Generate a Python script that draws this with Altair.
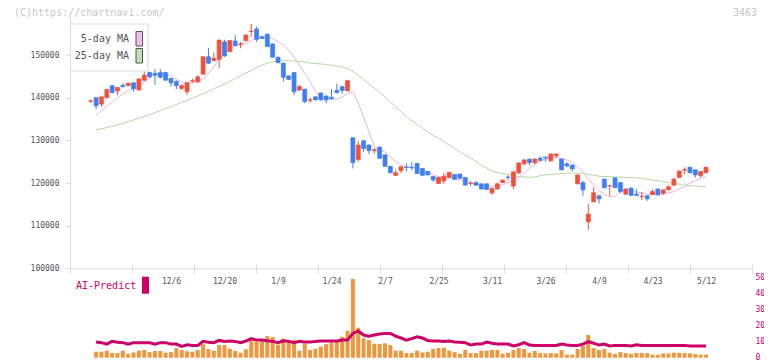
import json
import altair as alt
import pandas as pd

# ---------------- data ----------------
date_labels = ['12/6', '12/20', '1/9', '1/24', '2/7', '2/25', '3/11', '3/26', '4/9', '4/23', '5/12']
date_positions = [15, 25, 35, 45, 55, 65, 75, 85, 95, 105, 115]
price_ticks = [100000, 110000, 120000, 130000, 140000, 150000]
ai_ticks = [0, 10, 20, 30, 40, 50]

opens = [139150, 140000, 138500, 140000, 142800, 141600, 142900, 142800, 143500, 141800,
         144100, 145900, 145700, 145900, 145900, 144500, 143800, 142200, 141400, 143900,
         143700, 145500, 149600, 148700, 149000, 153100, 150800, 153300, 152500, 153400,
         155500, 156100, 154300, 154900, 152600, 149500, 148100, 145100, 145900, 141800,
         142000, 139400, 140200, 141100, 140400, 140100, 141700, 142600, 141600, 130600,
         125500, 129900, 128900, 127600, 128400, 126600, 123900, 121800, 122900, 123700,
         123700, 124600, 123400, 122700, 121500, 119900, 120500, 121300, 122000, 122100,
         121300, 119900, 120100, 119800, 119800, 117700, 118600, 120100, 121400, 119300,
         122400, 124500, 125600, 124800, 125800, 126100, 125200, 126400, 125600, 124500,
         124200, 119800, 120100, 110900, 115600, 117000, 120900, 119300, 121200, 120100,
         117400, 118800, 117400, 116800, 117000, 117300, 118600, 117600, 118400, 119500,
         121300, 123000, 123700, 123100, 121700, 122400]
highs = [139600, 140100, 140300, 142100, 143000, 142500, 143400, 143600, 143600, 144500,
         146100, 146100, 146700, 146700, 146000, 144600, 144100, 143200, 143600, 144500,
         145200, 149700, 151700, 150600, 153600, 153600, 153500, 154700, 153100, 154800,
         157300, 156700, 154500, 155000, 152700, 149600, 148200, 145200, 146000, 143000,
         142100, 140100, 140300, 141200, 140500, 142000, 143300, 142700, 144200, 130700,
         129900, 130100, 129000, 128300, 128600, 126700, 124000, 123100, 123900, 124600,
         124900, 124700, 123500, 122800, 121600, 121400, 122300, 122600, 122100, 122200,
         121400, 120400, 120400, 119900, 119900, 118800, 120100, 120800, 121800, 122700,
         124800, 125600, 125700, 125800, 126300, 126100, 126900, 126900, 125700, 124900,
         124300, 121900, 120500, 115100, 119000, 117100, 121000, 119500, 121300, 120200,
         118700, 118900, 118600, 117900, 117100, 118500, 118700, 118400, 119500, 121300,
         122900, 123700, 123800, 123200, 122800, 123800]
lows = [138700, 137300, 137900, 139900, 141000, 140600, 142400, 142700, 141400, 141700,
        144000, 144600, 143000, 144500, 144100, 142600, 142000, 141800, 140700, 143500,
        143600, 145400, 147900, 148500, 147000, 149600, 150700, 152100, 151600, 153200,
        154300, 153100, 153800, 151900, 149400, 148100, 143800, 144100, 140600, 141600,
        138700, 138800, 139300, 139300, 138700, 139600, 141000, 140900, 141500, 123400,
        125000, 127300, 126800, 126900, 125700, 123800, 122300, 121700, 122300, 122700,
        123000, 122100, 121600, 121800, 120300, 119800, 119800, 121200, 120700, 121000,
        119400, 119300, 119300, 118500, 118400, 117200, 118500, 120000, 120700, 118600,
        122100, 124200, 124100, 124300, 125200, 125000, 125100, 125900, 123000, 123700,
        122700, 119700, 117000, 109000, 115500, 115200, 118800, 117000, 118800, 117600,
        117200, 117000, 117000, 116000, 115800, 117200, 117100, 117200, 118300, 119400,
        121200, 122000, 122300, 121300, 121300, 122300]
closes = [139250, 138100, 140200, 141900, 141200, 142400, 142600, 143400, 142100, 144400,
          145300, 144900, 145300, 144800, 144100, 143500, 142800, 142800, 143500, 144000,
          144900, 149600, 148100, 149200, 153500, 149800, 153400, 152200, 152600, 154700,
          155600, 153700, 153900, 152000, 149500, 148200, 144800, 144300, 141400, 142600,
          139100, 139500, 139500, 139500, 139500, 139800, 141200, 141700, 144000, 124800,
          128900, 128100, 127600, 127800, 125800, 123900, 122400, 122400, 123800, 123600,
          123600, 122200, 121800, 121900, 120700, 121300, 121600, 122500, 120900, 121100,
          119500, 120000, 119500, 118600, 118500, 118700, 119800, 120700, 121300, 122600,
          124700, 125400, 124800, 125600, 125300, 125900, 126800, 126800, 123100, 124000,
          123300, 121900, 118400, 112700, 117700, 116300, 118900, 119400, 118900, 118000,
          118600, 117100, 117100, 116900, 116300, 118000, 117200, 118400, 119100, 120900,
          122800, 123100, 122400, 121900, 122700, 123700]

ma5 = [None, 135800, 136900, 138000, 139000, 140000, 140900, 141600, 142200, 142800, 143700,
       144700, 145400, 145700, 145700, 145100, 144300, 143700, 143500, 143500, 143700,
       144500, 145700, 147200, 149000, 150400, 151300, 152100, 152600, 152800, 153400,
       153900, 154200, 154300, 153900, 153200, 152400, 151200, 149500, 147700, 145700,
       143700, 141500, 140300, 139700, 139600, 139700, 140100, 141000, 141400, 138700,
       135500, 132000, 128600, 127700, 127300, 126200, 125000, 124200, 123800, 123600,
       123400, 123000, 122600, 121900, 121500, 121300, 121200, 120900, 120700, 120500,
       120100, 119800, 119400, 119100, 119100, 119300, 119600, 120100, 120600, 121300,
       122300, 123500, 124500, 125200, 125600, 125900, 126000, 125800, 125400, 124800,
       123800, 122600, 121000, 119500, 118200, 117300, 116800, 116800, 118000, 118500,
       118300, 117900, 117600, 117400, 117300, 117400, 117500, 117700, 118000, 118600,
       119300, 120000, 120600, 121100, 121500]
ma25 = [None, 132500, 132700, 133000, 133300, 133600, 134000, 134400, 134800, 135200, 135600,
        136000, 136500, 137000, 137500, 137900, 138400, 138900, 139400, 139900, 140400,
        140900, 141500, 142100, 142700, 143200, 143800, 144500, 145100, 145800, 146400,
        147100, 147600, 148100, 148400, 148600, 148700, 148700, 148600, 148500, 148400,
        148100, 148000, 147900, 147800, 147600, 147400, 147200, 146800, 146200, 145200,
        144300, 143200, 142300, 141200, 140200, 139000, 137900, 136700, 135500, 134600,
        133800, 132900, 132000, 131200, 130500, 129700, 128900, 128100, 127300, 126500,
        125800, 125000, 124200, 123500, 122800, 122400, 122200, 122000, 121700, 121500,
        121400, 121300, 121400, 121700, 121900, 122000, 122100, 122200, 122300, 122300,
        122300, 122300, 122000, 121800, 121600, 121500, 121500, 121400, 121400, 121300,
        121300, 121200, 121100, 120900, 120700, 120500, 120300, 120100, 119900, 119700,
        119500, 119400, 119300, 119200, 119100]
volume = [None, 3.75, 3.75, 4.4, 2.9, 2.9, 4.4, 2.5, 3.3, 4.4, 4.8,
          3.5, 4.2, 4.2, 3.1, 3.5, 6.0, 4.8, 4.0, 3.75, 4.8,
          8.5, 5.4, 4.4, 7.9, 7.9, 5.6, 4.2, 3.1, 5.2, 11.0,
          10.0, 10.4, 13.5, 12.9, 8.1, 11.9, 10.4, 11.0, 4.4, 8.75,
          4.8, 5.6, 6.9, 8.5, 9.4, 10.6, 13.1, 16.9, 49.2, 18.75,
          12.1, 11.0, 8.75, 8.5, 9.0, 7.9, 4.4, 4.4, 2.9, 2.9,
          4.4, 3.3, 3.75, 5.4, 6.0, 6.25, 4.4, 3.5, 2.3, 4.8,
          2.9, 2.9, 4.4, 4.4, 4.8, 4.8, 2.5, 3.1, 4.8, 6.0,
          5.4, 3.1, 4.2, 2.9, 2.7, 2.9, 2.7, 4.8, 1.9, 1.9,
          5.4, 7.3, 14.2, 6.0, 4.8, 5.4, 3.1, 2.3, 3.5, 2.9,
          2.5, 2.9, 2.9, 2.9, 1.9, 1.9, 2.7, 2.7, 3.1, 3.1,
          2.9, 2.7, 2.3, 1.9, 1.9]
ai_predict = [None, 9.8, 9.4, 8.5, 10.2, 9.6, 9.4, 8.5, 9.4, 9.4, 9.4,
              9.4, 8.5, 9.4, 9.4, 8.5, 8.5, 7.1, 8.1, 7.7, 7.7,
              10.2, 9.6, 9.4, 10.8, 10.2, 10.4, 10.2, 9.4, 10.4, 11.9,
              11.0, 11.0, 10.6, 10.2, 9.4, 10.6, 10.2, 9.4, 10.2, 9.8,
              9.8, 10.2, 10.4, 10.4, 10.4, 10.4, 11.0, 11.0, 15.2, 16.7,
              14.2, 13.5, 14.2, 14.8, 15.2, 15.2, 13.5, 12.3, 11.0, 11.9,
              13.1, 12.3, 10.8, 10.4, 10.4, 10.2, 10.4, 9.8, 9.6, 9.4,
              7.9, 8.5, 8.5, 9.8, 9.0, 8.5, 8.5, 8.5, 7.3, 8.1,
              9.4, 7.9, 7.7, 7.7, 7.7, 7.7, 7.7, 8.5, 7.9, 7.7,
              7.7, 8.5, 10.0, 9.0, 7.9, 8.5, 7.3, 7.7, 7.7, 7.7,
              7.3, 8.1, 7.7, 7.7, 7.7, 7.7, 7.7, 7.7, 7.7, 7.7,
              7.7, 7.3, 7.3, 7.3, 7.3]

# ---------------- layout ----------------
FONT = "DejaVu Sans Mono"
PLOT_W, PLOT_H = 682, 350
SLOT = 5.35
FIRST = 20.75
x_dom = [-FIRST / SLOT, (PLOT_W - FIRST) / SLOT]
tick_vals = [x_dom[0] + k * 62 / SLOT for k in range(12)]
AXIS_OFFSET = 260.3 - PLOT_H


def price_scale():
    return alt.Scale(domain=[100000, 160000], range=[260.3, 4.4], nice=False, zero=False, padding=0)


def vol_scale():
    return alt.Scale(domain=[0, 50], range=[349.7, 269.7], nice=False, padding=0)


x_scale = alt.Scale(domain=x_dom, nice=False, zero=False, padding=0)
dir_scale = alt.Scale(domain=['up', 'down'], range=['#f0503c', '#3f7ff0'])

n = len(opens)
candles = pd.DataFrame({'i': list(range(n)), 'open': opens, 'high': highs,
                        'low': lows, 'close': closes})
candles['dir'] = ['up' if c >= o else 'down' for o, c in zip(opens, closes)]
ma5_df = pd.DataFrame({'i': list(range(n)), 'v': ma5}).dropna()
ma25_df = pd.DataFrame({'i': list(range(n)), 'v': ma25}).dropna()
vol_df = pd.DataFrame({'i': list(range(n)), 'vol': volume, 'ai': ai_predict}).dropna()


def X(axis=None):
    return alt.X('i:Q', scale=x_scale, axis=axis)


tick_axis = alt.Axis(orient='bottom', values=tick_vals, labels=False, ticks=True, tickSize=5,
                     domain=True, grid=False, offset=AXIS_OFFSET, title=None,
                     tickColor='#dcdcdc', domainColor='#dcdcdc')
# upper half of the crossing tick marks
tick_axis_up = alt.Axis(orient='bottom', values=tick_vals, labels=False, ticks=True, tickSize=4,
                        domain=False, grid=False, offset=AXIS_OFFSET - 4, title=None,
                        tickColor='#dcdcdc')
label_expr = json.dumps(date_labels) + "[round((datum.value - 15) / 10)]"
label_axis = alt.Axis(orient='bottom', values=date_positions, labelExpr=label_expr, ticks=False,
                      domain=False, grid=False, offset=AXIS_OFFSET, labelPadding=9, title=None,
                      labelOverlap=False, labelFlush=False, labelColor='#555')
price_axis = alt.Axis(orient='left', values=price_ticks, format='d', tickSize=5, labelPadding=6,
                      grid=False, title=None, tickColor='#dcdcdc', domainColor='#dcdcdc',
                      labelColor='#555')
ai_axis = alt.Axis(orient='right', values=ai_ticks, domain=False, ticks=False, grid=False,
                   labelPadding=3, title=None, labelColor='#cc0066')

ma25_line = alt.Chart(ma25_df).mark_line(color='#b2daa4', strokeWidth=1).encode(
    x=X(tick_axis), y=alt.Y('v:Q', scale=price_scale(), axis=price_axis))
ma5_line = alt.Chart(ma5_df).mark_line(color='#e8b2ea', strokeWidth=1).encode(
    x=X(tick_axis_up), y=alt.Y('v:Q', scale=price_scale(), axis=None))
wicks = alt.Chart(candles).mark_rule(strokeWidth=1).encode(
    x=X(),
    y=alt.Y('low:Q', scale=price_scale(), axis=None),
    y2='high:Q',
    color=alt.Color('dir:N', scale=dir_scale, legend=None),
)
bodies = alt.Chart(candles).mark_bar(size=4, strokeWidth=0.7).encode(
    x=X(),
    y=alt.Y('open:Q', scale=price_scale(), axis=None),
    y2='close:Q',
    color=alt.Color('dir:N', scale=dir_scale, legend=None),
    stroke=alt.Stroke('dir:N', scale=dir_scale, legend=None),
)

vol_bars = alt.Chart(vol_df).mark_bar(size=4, color='#f0963c').encode(
    x=X(label_axis), y=alt.Y('vol:Q', scale=vol_scale(), axis=ai_axis))
ai_line = alt.Chart(vol_df).mark_line(color='#cc0066', strokeWidth=3).encode(
    x=X(), y=alt.Y('ai:Q', scale=vol_scale(), axis=None))

one = pd.DataFrame({'k': [0]})


def txt(s, x, y, size=10, color='#555', align='left'):
    return alt.Chart(one).mark_text(text=s, font=FONT, fontSize=size, color=color,
                                    align=align, baseline='middle').encode(
        x=alt.value(x), y=alt.value(y))


def box(x1, x2, y1, y2, fill, stroke=None, sw=1):
    kw = dict(fill=fill)
    if stroke:
        kw.update(stroke=stroke, strokeWidth=sw)
    return alt.Chart(one).mark_rect(**kw).encode(
        x=alt.value(x1), x2=alt.value(x2), y=alt.value(y1), y2=alt.value(y2))


legend = [
    box(0.5, 78, 16, 63, 'white', '#dddddd', 1.2),
    txt('5-day MA', 59, 31, align='right'),
    txt('25-day MA', 59, 48, align='right'),
    box(66, 72.5, 23.5, 38, '#ecc0ee', '#555555', 1),
    box(66, 72.5, 40.5, 55, '#bfe0b6', '#555555', 1),
]

deco = [
    txt('(C)https://chartnavi.com/', -56, 4.5, color='#c8c8c8'),
    txt('3463', 687, 4.5, color='#c8c8c8', align='right'),
    txt('AI-Predict', 6, 278, color='#cc0066'),
    box(72, 79, 268.7, 285.7, '#cc0066'),
]

chart = alt.layer(
    ma25_line, vol_bars, ma5_line, wicks, bodies, ai_line, *legend, *deco
).resolve_scale(
    y='independent'
).resolve_axis(
    x='independent', y='independent'
).properties(
    width=PLOT_W, height=PLOT_H,
    autosize=alt.AutoSizeParams(type='none'),
    padding={'left': 62, 'top': 0, 'right': 12, 'bottom': 3},
).configure_view(strokeWidth=0).configure_axis(
    labelFont=FONT, labelFontSize=8,
)

chart.save("out.html", embed_options={"renderer": "svg", "actions": False})
